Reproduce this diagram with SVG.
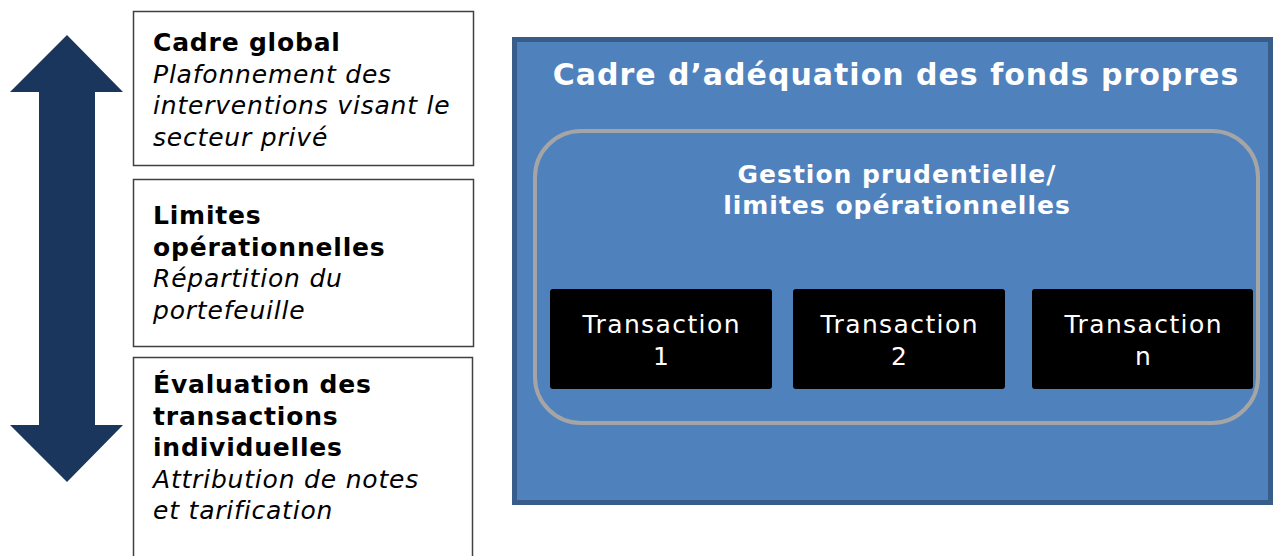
<svg xmlns="http://www.w3.org/2000/svg" width="1276" height="556" viewBox="0 0 1276 556">
<style>
.t{font-family:"DejaVu Sans",Verdana,sans-serif;font-size:25px;letter-spacing:0.8px;fill:#000}
.b{font-weight:bold}
.i{font-style:italic}
.box{fill:#fff;stroke:#404040;stroke-width:1.5}
.w{font-family:"DejaVu Sans",Verdana,sans-serif;fill:#fff;text-anchor:middle}
.tr{font-size:25px;letter-spacing:1.4px}
</style>
<rect width="1276" height="556" fill="#fff"/>
<g id="arrow">
<polygon points="67,35 123,92 95,92 95,425 123,425 67,482 10,425 39,425 39,92 10,92" fill="#1B365D"/>
</g>
<g id="cadre-global">
<rect class="box" x="133.5" y="11.5" width="340" height="154"/>
<text class="t" x="153" y="51"><tspan class="b">Cadre global</tspan><tspan class="i" x="153" dy="31.5">Plafonnement des</tspan><tspan class="i" x="153" dy="31.5">interventions visant le</tspan><tspan class="i" x="153" dy="31.5">secteur privé</tspan></text>
</g>
<g id="limites">
<rect class="box" x="133.5" y="179.5" width="340" height="167"/>
<text class="t" x="153" y="224"><tspan class="b">Limites</tspan><tspan class="b" x="153" dy="31.5">opérationnelles</tspan><tspan class="i" x="153" dy="31.5">Répartition du</tspan><tspan class="i" x="153" dy="31.5">portefeuille</tspan></text>
</g>
<g id="evaluation">
<rect class="box" x="133.5" y="357.5" width="339" height="210"/>
<text class="t" x="153" y="393"><tspan class="b">Évaluation des</tspan><tspan class="b" x="153" dy="31.5">transactions</tspan><tspan class="b" x="153" dy="31.5">individuelles</tspan><tspan class="i" x="153" dy="31.5">Attribution de notes</tspan><tspan class="i" x="153" dy="31.5">et tarification</tspan></text>
</g>
<g id="cadre-adequation">
<rect x="514.5" y="39.5" width="756" height="463" fill="#4F81BD" stroke="#385D8A" stroke-width="5"/>
<text class="w b" x="896" y="85" font-size="30" letter-spacing="1">Cadre d’adéquation des fonds propres</text>
</g>
<g id="gestion">
<rect x="535" y="131" width="723" height="292" rx="46" fill="none" stroke="#A5A5A5" stroke-width="4"/>
<text class="w b" x="897" y="183" font-size="25" letter-spacing="1">Gestion prudentielle/</text>
<text class="w b" x="897" y="214" font-size="25" letter-spacing="1">limites opérationnelles</text>
</g>
<g id="transaction-1">
<rect x="550" y="289" width="222" height="100" rx="3" fill="#000"/>
<text class="w tr" x="661.7" y="333">Transaction</text>
<text class="w tr" x="661.7" y="365">1</text>
</g>
<g id="transaction-2">
<rect x="793" y="289" width="212" height="100" rx="3" fill="#000"/>
<text class="w tr" x="899.7" y="333">Transaction</text>
<text class="w tr" x="899.7" y="365">2</text>
</g>
<g id="transaction-n">
<rect x="1032" y="289" width="221" height="100" rx="3" fill="#000"/>
<text class="w tr" x="1143.7" y="333">Transaction</text>
<text class="w tr" x="1143.7" y="365">n</text>
</g>
<g id="connectors"></g>
</svg>
